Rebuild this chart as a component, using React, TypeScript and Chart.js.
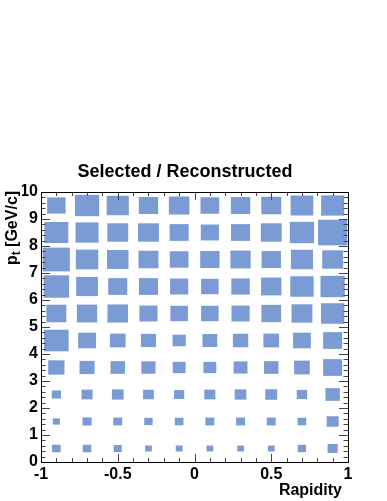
import React, { useEffect, useRef } from "react";
import { Chart, registerables } from "chart.js";

Chart.register(...registerables);

// ---- data ----
const chartTitle = "Selected / Reconstructed";
const xTitle = "Rapidity";
const yTitleMain = "p";
const yTitleSub = "t";
const yTitleRest = " [GeV/c]";

// bin centers
const rapidityCenters = [-0.9, -0.7, -0.5, -0.3, -0.1, 0.1, 0.3, 0.5, 0.7, 0.9];
const ptCenters = [0.5, 1.5, 2.5, 3.5, 4.5, 5.5, 6.5, 7.5, 8.5, 9.5];
const rapidityBinWidth = 0.2;
const ptBinWidth = 1;

// bin contents (box size relative to maximum), one array per pt bin, rapidity -1 -> 1
const pt0to1 = [0.28, 0.28, 0.26, 0.22, 0.22, 0.22, 0.22, 0.22, 0.27, 0.33];
const pt1to2 = [0.23, 0.3, 0.29, 0.27, 0.28, 0.29, 0.29, 0.29, 0.28, 0.39];
const pt2to3 = [0.3, 0.36, 0.38, 0.35, 0.33, 0.36, 0.38, 0.39, 0.34, 0.47];
const pt3to4 = [0.53, 0.49, 0.47, 0.46, 0.42, 0.42, 0.45, 0.47, 0.51, 0.62];
const pt4to5 = [0.8, 0.58, 0.51, 0.49, 0.43, 0.48, 0.5, 0.51, 0.58, 0.62];
const pt5to6 = [0.65, 0.66, 0.67, 0.59, 0.57, 0.57, 0.59, 0.64, 0.68, 0.76];
const pt6to7 = [0.83, 0.71, 0.62, 0.62, 0.59, 0.57, 0.6, 0.66, 0.76, 0.79];
const pt7to8 = [0.88, 0.73, 0.7, 0.65, 0.61, 0.63, 0.66, 0.63, 0.72, 0.68];
const pt8to9 = [0.78, 0.75, 0.68, 0.68, 0.62, 0.59, 0.62, 0.68, 0.79, 0.95];
const pt9to10 = [0.6, 0.79, 0.72, 0.63, 0.67, 0.61, 0.63, 0.65, 0.74, 0.75];
const ptRows = [pt0to1, pt1to2, pt2to3, pt3to4, pt4to5, pt5to6, pt6to7, pt7to8, pt8to9, pt9to10];
const maxContent = 1;

// axis ranges and tick steps
const xMin = -1, xMax = 1, xMajorStep = 0.5, xMinorStep = 0.1;
const yMin = 0, yMax = 10, yMajorStep = 1, yMinorStep = 0.2;

// ---- style ----
const FONT = "'Liberation Sans', Arial, Helvetica, sans-serif";
const BOX_COLOR = "#7b9bd4";

function makeTicks(min: number, max: number, step: number) {
  const out: number[] = [];
  const n = Math.round((max - min) / step);
  for (let i = 0; i <= n; i++) out.push(min + i * step);
  return out;
}

const boxPlugin = {
  id: "rootBoxes",
  beforeDatasetsDraw(chart: any) {
    const { ctx } = chart;
    const xs = chart.scales.x;
    const ys = chart.scales.y;
    const pts = chart.data.datasets[0].data as { x: number; y: number; v: number }[];
    ctx.save();
    ctx.fillStyle = BOX_COLOR;
    for (const p of pts) {
      const r = p.v / maxContent;
      const x0 = xs.getPixelForValue(p.x - (rapidityBinWidth / 2) * r);
      const x1 = xs.getPixelForValue(p.x + (rapidityBinWidth / 2) * r);
      const y0 = ys.getPixelForValue(p.y + (ptBinWidth / 2) * r);
      const y1 = ys.getPixelForValue(p.y - (ptBinWidth / 2) * r);
      ctx.fillRect(x0, y0, x1 - x0, y1 - y0);
    }
    ctx.restore();
  },
  afterDraw(chart: any) {
    const { ctx, chartArea } = chart;
    const xs = chart.scales.x;
    const ys = chart.scales.y;
    const { left, right, top, bottom } = chartArea;
    ctx.save();
    // ticks
    ctx.strokeStyle = "#444";
    ctx.lineWidth = 1;
    ctx.beginPath();
    for (const v of makeTicks(xMin, xMax, xMinorStep)) {
      const major = Math.abs(v / xMajorStep - Math.round(v / xMajorStep)) < 1e-6;
      const len = major ? 8 : 4;
      const px = Math.round(xs.getPixelForValue(v)) + 0.5;
      ctx.moveTo(px, bottom);
      ctx.lineTo(px, bottom - len);
      ctx.moveTo(px, top);
      ctx.lineTo(px, top + len);
    }
    for (const v of makeTicks(yMin, yMax, yMinorStep)) {
      const major = Math.abs(v / yMajorStep - Math.round(v / yMajorStep)) < 1e-6;
      const len = major ? 9 : 4.5;
      const py = Math.round(ys.getPixelForValue(v)) + 0.5;
      ctx.moveTo(left, py);
      ctx.lineTo(left + len, py);
      ctx.moveTo(right, py);
      ctx.lineTo(right - len, py);
    }
    ctx.stroke();
    // frame
    ctx.strokeStyle = "#000";
    ctx.strokeRect(Math.round(left) + 0.5, Math.round(top) + 0.5, Math.round(right - left), Math.round(bottom - top));

    // x title
    ctx.fillStyle = "#000";
    ctx.font = `bold 16px ${FONT}`;
    ctx.textAlign = "right";
    ctx.textBaseline = "middle";
    ctx.fillText(xTitle, right - 6, 491);

    // y title (rotated, with subscript)
    const mainFont = `bold 16px ${FONT}`;
    const subFont = `bold 12px ${FONT}`;
    ctx.font = mainFont;
    const wMain = ctx.measureText(yTitleMain).width;
    const wRest = ctx.measureText(yTitleRest).width;
    ctx.font = subFont;
    const wSub = ctx.measureText(yTitleSub).width;
    const total = wMain + wSub + wRest;
    ctx.translate(17, 228);
    ctx.rotate(-Math.PI / 2);
    ctx.textAlign = "left";
    ctx.textBaseline = "alphabetic";
    let cx = -total / 2;
    ctx.font = mainFont;
    ctx.fillText(yTitleMain, cx, 0);
    cx += wMain;
    ctx.font = subFont;
    ctx.fillText(yTitleSub, cx, 3);
    cx += wSub;
    ctx.font = mainFont;
    ctx.fillText(yTitleRest, cx, 0);
    ctx.restore();
  },
};

function fmt(v: number) {
  return String(Number(Number(v).toFixed(2)));
}

export default function App() {
  const canvasRef = useRef<HTMLCanvasElement | null>(null);

  useEffect(() => {
    document.body.style.margin = "0";
    const canvas = canvasRef.current;
    if (!canvas) return;
    const points: { x: number; y: number; v: number }[] = [];
    ptRows.forEach((row, j) => {
      row.forEach((v, i) => {
        points.push({ x: rapidityCenters[i], y: ptCenters[j], v });
      });
    });

    const chart = new Chart(canvas, {
      type: "scatter",
      data: {
        datasets: [
          {
            label: chartTitle,
            data: points as any,
            pointRadius: 0,
            pointHoverRadius: 0,
            showLine: false,
          },
        ],
      },
      options: {
        animation: false,
        responsive: false,
        devicePixelRatio: 1,
        events: [],
        layout: { padding: { left: 22, right: 39, top: 0, bottom: 0 } },
        plugins: {
          legend: { display: false },
          tooltip: { enabled: false },
          title: {
            display: true,
            text: chartTitle,
            color: "#000",
            font: { family: FONT, size: 18, weight: "bold", lineHeight: 1.2 },
            padding: { top: 161, bottom: 9.4 },
          },
        },
        scales: {
          x: {
            type: "linear",
            min: xMin,
            max: xMax,
            grid: { display: false, drawTicks: false },
            border: { display: false },
            ticks: {
              stepSize: xMajorStep,
              autoSkip: false,
              maxRotation: 0,
              padding: 3,
              color: "#000",
              font: { family: FONT, size: 16, weight: "bold" },
              callback: (v: any) => fmt(v),
            },
            afterFit: (s: any) => {
              s.height = 39;
            },
          },
          y: {
            type: "linear",
            min: yMin,
            max: yMax,
            grid: { display: false, drawTicks: false },
            border: { display: false },
            ticks: {
              stepSize: yMajorStep,
              autoSkip: false,
              padding: 3,
              color: "#000",
              font: { family: FONT, size: 16, weight: "bold" },
              callback: (v: any) => fmt(v),
            },
            afterFit: (s: any) => {
              s.width = 19;
            },
          },
        },
      },
      plugins: [boxPlugin],
    });
    return () => chart.destroy();
  }, []);

  return (
    <div style={{ width: 387, height: 501 }}>
      <canvas ref={canvasRef} width={387} height={501} style={{ display: "block" }} />
    </div>
  );
}
